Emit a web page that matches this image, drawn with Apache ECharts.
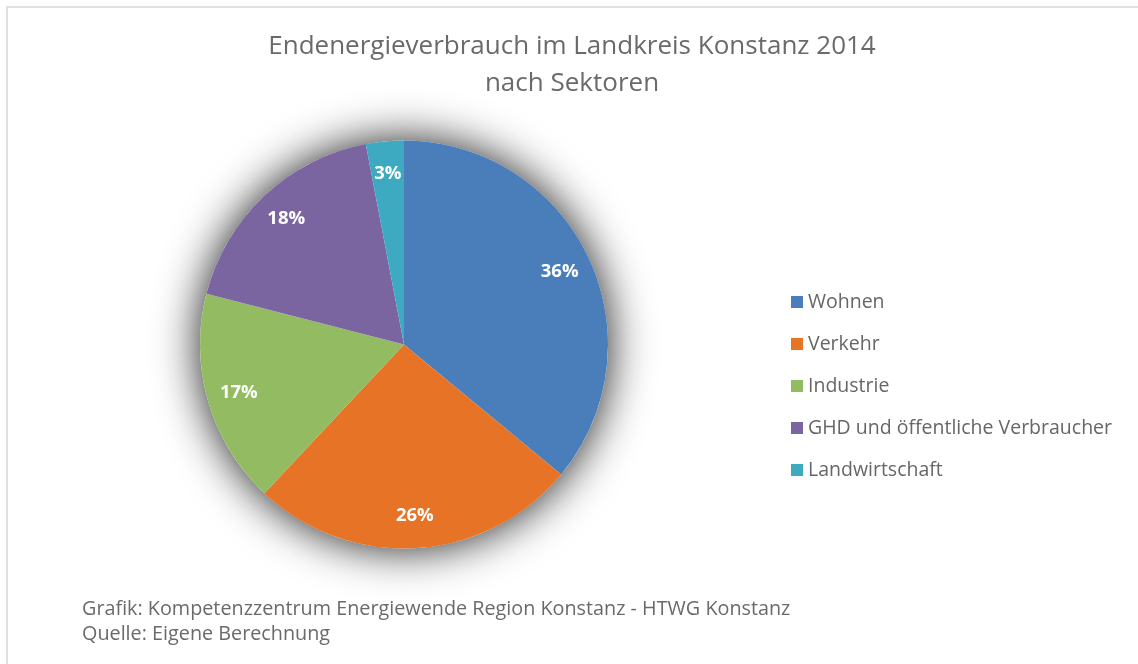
<!DOCTYPE html>
<html>
<head>
<meta charset="utf-8">
<script src="https://cdn.jsdelivr.net/npm/echarts@6/dist/echarts.min.js"></script>
<style>
  html, body { margin: 0; padding: 0; background: #fff; }
  #chart { width: 1138px; height: 664px; position: absolute; left: 0; top: 0; }
  #frame { position: absolute; left: 6px; top: 6px; width: 1200px; height: 700px;
           border-left: 2px solid #e0e0e0; border-top: 2px solid #e0e0e0; pointer-events: none; }
</style>
</head>
<body>
<div id="chart"></div>
<div id="frame"></div>
<script>
const titleLines = ['Endenergieverbrauch im Landkreis Konstanz 2014', 'nach Sektoren'];
const footerLines = ['Grafik: Kompetenzzentrum Energiewende Region Konstanz - HTWG Konstanz', 'Quelle: Eigene Berechnung'];
const categories = ['Wohnen', 'Verkehr', 'Industrie', 'GHD und öffentliche Verbraucher', 'Landwirtschaft'];
const values = [36, 26, 17, 18, 3];
const colors = ['#4A7EBB', '#E67326', '#93BB62', '#7A65A1', '#3DAAC2'];

const FONT = 'Open Sans';
const data = categories.map((n, i) => ({ name: n, value: values[i], itemStyle: { color: colors[i] } }));
const total = values.reduce((a, b) => a + b, 0);

const chart = echarts.init(document.getElementById('chart'), null, { renderer: 'canvas' });
chart.setOption({
  backgroundColor: 'transparent',
  animation: false,
  title: [
    {
      text: titleLines.join('\n'),
      left: 572, top: 28, textAlign: 'center', padding: 0,
      textStyle: { fontFamily: FONT, fontWeight: 'normal', fontSize: 26, color: '#6a6a6a', lineHeight: 37 }
    },
    {
      text: footerLines.join('\n'),
      left: 82, top: 597, padding: 0,
      textStyle: { fontFamily: FONT, fontWeight: 'normal', fontSize: 19.8, color: '#6a6a6a', lineHeight: 25 }
    }
  ],
  legend: {
    orient: 'vertical',
    left: 791, top: 291, padding: 0,
    itemWidth: 12, itemHeight: 12, itemGap: 20,
    icon: 'rect',
    data: categories.map((n, i) => ({ name: n, itemStyle: { color: colors[i] } })),
    textStyle: { fontFamily: FONT, fontSize: 19.5, color: '#666666', lineHeight: 22 },
    selectedMode: false
  },
  series: [
    {
      type: 'pie',
      silent: true,
      center: [404, 344.5],
      radius: [0, 204],
      z: 1,
      label: { show: false },
      labelLine: { show: false },
      itemStyle: { color: '#ffffff', shadowBlur: 45, shadowColor: 'rgba(0,0,0,0.9)', shadowOffsetX: 0, shadowOffsetY: 0 },
      data: [{ name: '__bg', value: total }]
    },
    {
      type: 'pie',
      silent: true,
      center: [404, 344.5],
      radius: [0, 204],
      startAngle: 90,
      clockwise: true,
      z: 2,
      label: { show: false },
      labelLine: { show: false },
      data: data
    },
    {
      type: 'pie',
      silent: true,
      center: [404, 344.5],
      radius: [134, 204],
      startAngle: 90,
      clockwise: true,
      z: 3,
      itemStyle: { color: 'rgba(0,0,0,0)' },
      label: {
        show: true, position: 'inside', formatter: '{c}%',
        fontFamily: FONT, fontWeight: 'bold', fontSize: 18.5, color: '#ffffff'
      },
      labelLine: { show: false },
      data: categories.map((n, i) => ({ name: n, value: values[i] }))
    }
  ]
});
</script>
</body>
</html>
